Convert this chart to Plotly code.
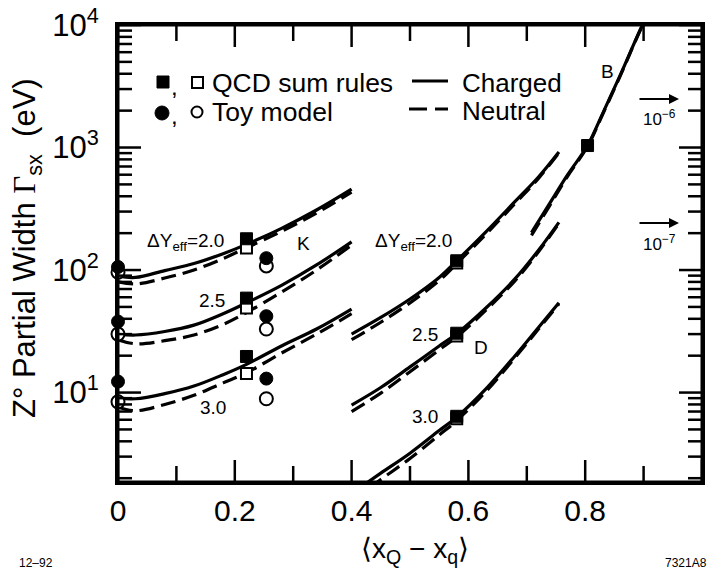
import math
import plotly.graph_objects as go

# ---------------- data ----------------
K_x = [0.0, 0.03, 0.08, 0.13, 0.18, 0.22, 0.28, 0.34, 0.40]
K_charged_20 = [89, 87, 99, 113, 136, 162, 219, 309, 457]
K_neutral_20 = [80, 77, 86, 100, 124, 152, 207, 292, 432]
K_charged_25 = [30, 29.5, 31.5, 35.5, 44, 54, 75, 110, 170]
K_neutral_25 = [27, 25, 26.5, 29.5, 36, 45, 66, 100, 160]
K_charged_30 = [9.0, 8.9, 9.8, 11.3, 14.0, 17.0, 24, 33, 48]
K_neutral_30 = [7.6, 7.1, 8.0, 9.5, 12.0, 14.5, 21, 30, 44]

D_x = [0.40, 0.45, 0.50, 0.55, 0.58, 0.63, 0.68, 0.72, 0.755]
D_charged_20 = [30, 41, 58, 87, 119, 205, 363, 575, 920]
D_neutral_20 = [27, 37.5, 54, 82, 113, 196, 350, 560, 905]
D_charged_25 = [7.9, 11, 16.2, 24, 30.2, 49, 85, 145, 245]
D_neutral_25 = [7.0, 9.9, 14.8, 22.3, 28.5, 47, 82, 141, 240]
D_charged_30 = [1.5, 2.2, 3.2, 4.9, 6.3, 10.7, 20, 34, 54]
D_neutral_30 = [1.3, 1.95, 2.9, 4.5, 5.9, 10.2, 19.3, 33, 53]

B_x = [0.708, 0.74, 0.77, 0.804, 0.83, 0.86, 0.898, 0.92]
B_charged = [202, 355, 600, 1038, 1900, 3900, 10000, 16000]
B_neutral = [192, 340, 585, 1020, 1870, 3850, 9900, 15800]

QCD_filled_x = [0.22, 0.22, 0.22, 0.58, 0.58, 0.58, 0.804]
QCD_filled_y = [180, 59, 19.7, 119, 30.5, 6.4, 1038]
QCD_open_x = [0.22, 0.22, 0.22, 0.58, 0.58, 0.58]
QCD_open_y = [151, 49, 14.3, 114, 29, 6.1]
Toy_filled_x = [0.0, 0.0, 0.0, 0.254, 0.254, 0.254]
Toy_filled_y = [106, 38, 12.3, 125, 42, 13]
Toy_open_x = [0.0, 0.0, 0.0, 0.254, 0.254, 0.254]
Toy_open_y = [96, 30, 8.4, 108, 33, 8.9]

x_tickvals = [0, 0.2, 0.4, 0.6, 0.8, 1.0]
x_ticktext = ["0", "0.2", "0.4", "0.6", "0.8", "1.0"]
x_minor = [0.1, 0.3, 0.5, 0.7, 0.9]
y_tickvals = [10, 100, 1000, 10000]
y_ticktext = ["10<sup>1</sup>", "10<sup>2</sup>", "10<sup>3</sup>", "10<sup>4</sup>"]
X_RANGE = [0, 1]
Y_RANGE = [0.27, 4.0]

# ---------------- layout helpers ----------------
W, H = 717, 572
L, R, T, B = 118, 15, 25, 90
PW, PH = W - L - R, H - T - B
FONT = "Liberation Sans, Arial, Helvetica, sans-serif"


def px(x):
    return (x - L) / PW


def py(y):
    return (H - B - y) / PH


fig = go.Figure()

solid = dict(color="black", width=3.2)
dashed = dict(color="black", width=3.2, dash="15px,7px")

for xs, ys, ln in [
    (K_x, K_neutral_20, dashed), (K_x, K_charged_20, solid),
    (K_x, K_neutral_25, dashed), (K_x, K_charged_25, solid),
    (K_x, K_neutral_30, dashed), (K_x, K_charged_30, solid),
    (D_x, D_neutral_20, dashed), (D_x, D_charged_20, solid),
    (D_x, D_neutral_25, dashed), (D_x, D_charged_25, solid),
    (D_x, D_neutral_30, dashed), (D_x, D_charged_30, solid),
    (B_x, B_neutral, dashed), (B_x, B_charged, solid),
]:
    fig.add_trace(go.Scatter(x=xs, y=ys, mode="lines", line=dict(shape="spline", **ln),
                             showlegend=False, hoverinfo="skip"))

fig.add_trace(go.Scatter(x=QCD_open_x, y=QCD_open_y, mode="markers", cliponaxis=False,
                         marker=dict(symbol="square", size=11, color="white",
                                     line=dict(color="black", width=2)), showlegend=False))
fig.add_trace(go.Scatter(x=QCD_filled_x, y=QCD_filled_y, mode="markers", cliponaxis=False,
                         marker=dict(symbol="square", size=12, color="black",
                                     line=dict(color="black", width=1)), showlegend=False))
fig.add_trace(go.Scatter(x=Toy_open_x, y=Toy_open_y, mode="markers", cliponaxis=False,
                         marker=dict(symbol="circle", size=13, color="white",
                                     line=dict(color="black", width=2)), showlegend=False))
fig.add_trace(go.Scatter(x=Toy_filled_x, y=Toy_filled_y, mode="markers", cliponaxis=False,
                         marker=dict(symbol="circle", size=13, color="black",
                                     line=dict(color="black", width=1)), showlegend=False))

fig.update_xaxes(range=X_RANGE, showline=True, linewidth=3, linecolor="black", mirror=True,
                 ticks="", tickmode="array", tickvals=x_tickvals, ticktext=x_ticktext,
                 tickfont=dict(family=FONT, size=30, color="black"),
                 showgrid=False, zeroline=False, automargin=False)
fig.update_yaxes(type="log", range=Y_RANGE, showline=True, linewidth=3, linecolor="black",
                 mirror=True, ticks="", tickmode="array", tickvals=y_tickvals, ticktext=y_ticktext,
                 ticklabelstandoff=10,
                 tickfont=dict(family=FONT, size=31, color="black"),
                 showgrid=False, zeroline=False, automargin=False)

shapes = []
tick_line = dict(color="black", width=2.5)

# frame
shapes.append(dict(type="rect", xref="paper", yref="paper", x0=0, x1=1, y0=0, y1=1,
                   line=dict(color="black", width=3), fillcolor="rgba(0,0,0,0)", layer="above"))


def xfrac(v):
    return (v - X_RANGE[0]) / (X_RANGE[1] - X_RANGE[0])


def yfrac(v):
    return (math.log10(v) - Y_RANGE[0]) / (Y_RANGE[1] - Y_RANGE[0])


# x ticks, bottom and top, pointing inward
for xv, ln in [(v, 22) for v in x_tickvals] + [(v, 16) for v in x_minor]:
    f = xfrac(xv)
    d = ln / PH
    shapes.append(dict(type="line", xref="paper", yref="paper", x0=f, x1=f, y0=0, y1=d, line=tick_line))
    shapes.append(dict(type="line", xref="paper", yref="paper", x0=f, x1=f, y0=1, y1=1 - d, line=tick_line))

# y ticks, left and right, pointing inward
y_minor = [m * 10 ** k for k in range(0, 4) for m in range(2, 10)]
for yv, ln in [(v, 23) for v in y_tickvals] + [(v, 14) for v in y_minor]:
    lv = math.log10(yv)
    if lv < Y_RANGE[0] or lv > Y_RANGE[1]:
        continue
    f = yfrac(yv)
    d = ln / PW
    shapes.append(dict(type="line", xref="paper", yref="paper", x0=0, x1=d, y0=f, y1=f, line=tick_line))
    shapes.append(dict(type="line", xref="paper", yref="paper", x0=1, x1=1 - d, y0=f, y1=f, line=tick_line))

# legend symbols
shapes.append(dict(type="rect", xref="paper", yref="paper", x0=px(157), x1=px(169), y0=py(88), y1=py(76),
                   fillcolor="black", line=dict(color="black", width=1)))
shapes.append(dict(type="rect", xref="paper", yref="paper", x0=px(192), x1=px(203), y0=py(88), y1=py(77),
                   fillcolor="white", line=dict(color="black", width=2)))
shapes.append(dict(type="circle", xref="paper", yref="paper", x0=px(155), x1=px(169), y0=py(120), y1=py(106),
                   fillcolor="black", line=dict(color="black", width=1)))
shapes.append(dict(type="circle", xref="paper", yref="paper", x0=px(191.5), x1=px(202.5), y0=py(117.5), y1=py(106.5),
                   fillcolor="white", line=dict(color="black", width=2)))
shapes.append(dict(type="line", xref="paper", yref="paper", x0=px(412), x1=px(448), y0=py(81), y1=py(81),
                   line=dict(color="black", width=3)))
shapes.append(dict(type="line", xref="paper", yref="paper", x0=px(409), x1=px(427), y0=py(109), y1=py(109),
                   line=dict(color="black", width=3)))
shapes.append(dict(type="line", xref="paper", yref="paper", x0=px(435), x1=px(448), y0=py(109), y1=py(109),
                   line=dict(color="black", width=3)))

ann = []


def text(x, y, s, size, xanchor="center", yanchor="middle", **kw):
    ann.append(dict(x=px(x), y=py(y), xref="paper", yref="paper", text=s, showarrow=False,
                    xanchor=xanchor, yanchor=yanchor,
                    font=dict(family=FONT, size=size, color="black"), **kw))


text(174, 86, ",", 24)
text(210, 83, "QCD sum rules", 26.5, xanchor="left")
text(174, 115, ",", 24)
text(210, 112, "Toy model", 26.5, xanchor="left")
text(460, 83, "Charged", 26, xanchor="left")
text(460, 111, "Neutral", 26, xanchor="left")

text(185, 242, "ΔY<sub>eff</sub>=2.0", 19)
text(303, 243, "K", 19)
text(212, 300, "2.5", 19)
text(213, 407, "3.0", 19)
text(413, 242, "ΔY<sub>eff</sub>=2.0", 19)
text(425, 334, "2.5", 19)
text(481, 347, "D", 19)
text(425, 416, "3.0", 19)
text(607, 71, "B", 19)

text(659, 118, "10<sup>−6</sup>", 17)
text(659, 243, "10<sup>−7</sup>", 17)
for yy in (99, 223):
    ann.append(dict(x=px(679), y=py(yy), xref="paper", yref="paper", ax=-41, ay=0, text="",
                    showarrow=True, arrowhead=2, arrowsize=1, arrowwidth=2, arrowcolor="black"))

text(27, 248, "Z° Partial Width <span style='font-family:Liberation Serif'>Γ</span><sub>sx</sub>  (eV)",
     31, textangle=-90)
text(415, 550, "⟨x<sub>Q</sub> − x<sub>q</sub>⟩", 28)
text(36, 563, "12–92", 12)
text(686, 563, "7321A8", 12)

fig.update_layout(width=W, height=H, margin=dict(l=L, r=R, t=T, b=B, autoexpand=False),
                  paper_bgcolor="white", plot_bgcolor="white",
                  shapes=shapes, annotations=ann, showlegend=False,
                  font=dict(family=FONT, color="black"))

fig.write_html("out.html", config={"displayModeBar": False},
               post_script="document.body.style.margin='0px';")
